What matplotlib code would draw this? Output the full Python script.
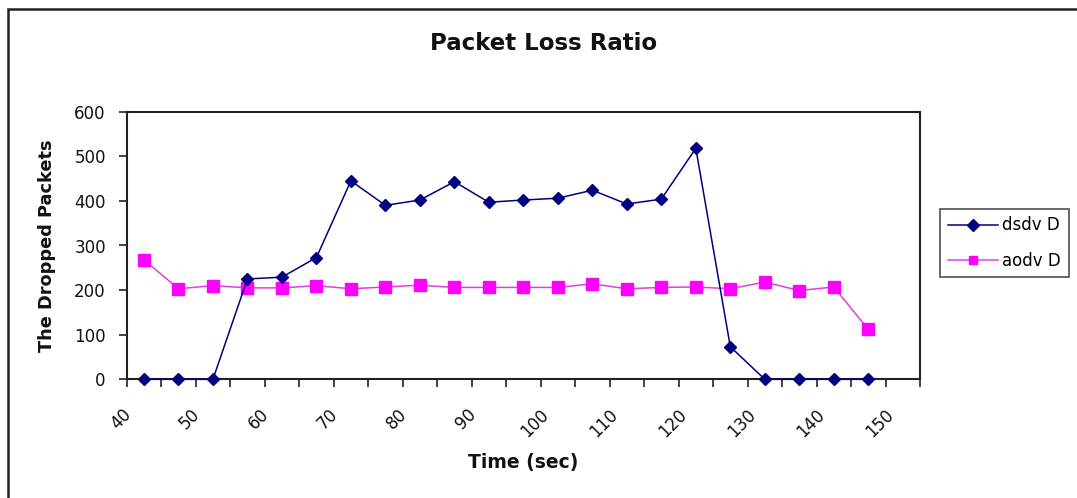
import matplotlib
matplotlib.use("Agg")
import matplotlib.pyplot as plt
from matplotlib.patches import Rectangle
from matplotlib.ticker import MultipleLocator
import matplotlib.transforms as mtransforms

# Sample times (sec) and dropped-packet counts per protocol
time_sec = [42.5, 47.5, 52.5, 57.5, 62.5, 67.5, 72.5, 77.5, 82.5, 87.5, 92.5,
            97.5, 102.5, 107.5, 112.5, 117.5, 122.5, 127.5, 132.5, 137.5, 142.5, 147.5]
dsdv_dropped = [0, 0, 0, 225, 229, 273, 445, 390, 402, 443, 397,
                402, 406, 424, 393, 404, 518, 73, 0, 0, 0, 0]
aodv_dropped = [268, 203, 210, 205, 205, 210, 203, 207, 211, 206, 206,
                206, 206, 214, 203, 206, 207, 203, 218, 199, 207, 112]
series_labels = ["dsdv D", "aodv D"]
x_tick_values = list(range(40, 151, 10))
y_tick_values = list(range(0, 601, 100))

plt.rcParams['font.family'] = ['DejaVu Sans']

fig = plt.figure(figsize=(10.77, 4.98), dpi=100)
fig.patch.set_facecolor("white")

# outer chart border (runs off the right and bottom edges)
fig.patches.append(Rectangle((8 / 1077, -0.05), 1.2, 1 - 9 / 498 + 0.05,
                             transform=fig.transFigure, fill=False,
                             edgecolor="#222222", linewidth=1.8, zorder=0))

ax = fig.add_axes([126.7 / 1077, 1 - 379.3 / 498, (920 - 126.7) / 1077, (379.3 - 111.7) / 498])

ax.plot(time_sec, dsdv_dropped, color="#000080", linewidth=1.1, marker="D",
        markersize=6.5, markerfacecolor="#000080", markeredgecolor="#000080",
        label=series_labels[0], zorder=3, clip_on=False)
ax.plot(time_sec, aodv_dropped, color="#E040E0", linewidth=1.1, marker="s",
        markersize=8, markerfacecolor="#FF00FF", markeredgecolor="#FF00FF",
        label=series_labels[1], zorder=2, clip_on=False)

ax.set_xlim(40, 155)
ax.set_ylim(0, 600)
ax.set_xticks(x_tick_values)
ax.set_xticklabels([str(v) for v in x_tick_values])
ax.xaxis.set_minor_locator(MultipleLocator(5))
ax.set_yticks(y_tick_values)

for side in ax.spines.values():
    side.set_color("#222222")
    side.set_linewidth(1.5)

ax.tick_params(axis="both", which="both", direction="out", length=6, width=1.2,
               color="#222222")
ax.tick_params(axis="y", labelsize=12, pad=9, labelcolor="#111111")
ax.tick_params(axis="x", labelsize=12, pad=13, labelcolor="#111111")

shift = mtransforms.ScaledTranslation(-6 / 100, 0, fig.dpi_scale_trans)
for lbl in ax.get_xticklabels():
    lbl.set_rotation(45)
    lbl.set_ha("center")
    lbl.set_va("top")
    lbl.set_transform(lbl.get_transform() + shift)

fig.text(544 / 1077, 1 - 43 / 498, "Packet Loss Ratio", ha="center", va="center",
         fontsize=16.5, fontweight="bold", color="#111111")
fig.text(47 / 1077, 1 - 246 / 498, "The Dropped Packets", ha="center", va="center",
         rotation=90, fontsize=12.8, fontweight="bold", color="#111111")
fig.text(523 / 1077, 1 - 462 / 498, "Time (sec)", ha="center", va="center",
         fontsize=13.5, fontweight="bold", color="#111111")

leg = ax.legend(loc="upper left", bbox_to_anchor=(940 / 1077, 1 - 209 / 498),
                bbox_transform=fig.transFigure, frameon=True, fancybox=False,
                fontsize=12, handlelength=3.0, handletextpad=0.3,
                borderpad=0.45, labelspacing=1.05, borderaxespad=0)
leg.get_frame().set_edgecolor("#222222")
leg.get_frame().set_linewidth(1.2)
for h in leg.legend_handles:
    h.set_markersize(6)

fig.savefig("out.png", dpi=100, facecolor="white")
